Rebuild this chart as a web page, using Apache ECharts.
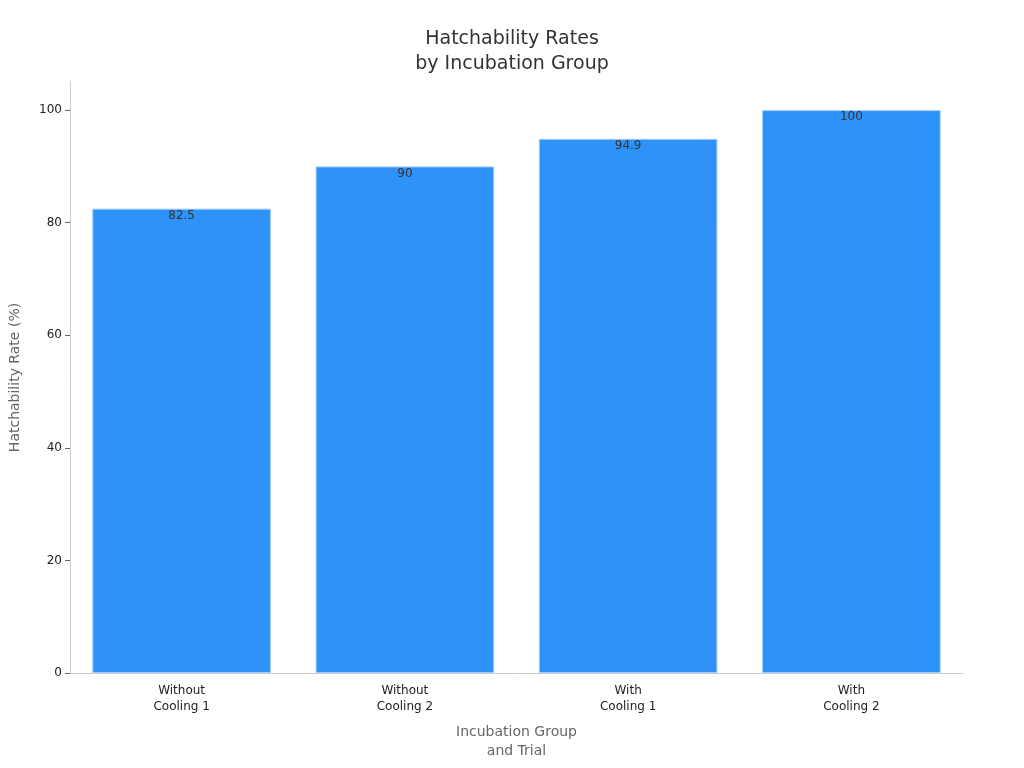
<!DOCTYPE html>
<html><head><meta charset="utf-8">
<script src="https://cdn.jsdelivr.net/npm/echarts@6/dist/echarts.min.js"></script>
<style>html,body{margin:0;padding:0;background:#fff}#c{width:1024px;height:768px}</style>
</head><body><div id="c"></div>
<script>
const categories = ["Without\nCooling 1","Without\nCooling 2","With\nCooling 1","With\nCooling 2"];
const values = [82.5, 90, 94.9, 100];
const yTicks = [0,20,40,60,80,100];
const chart = echarts.init(document.getElementById('c'));
const f = "DejaVu Sans";
chart.setOption({
  animation:false,
  textStyle:{fontFamily:f},
  title:{text:"Hatchability Rates\nby Incubation Group",left:'center',top:22,
    textStyle:{fontFamily:f,fontSize:19,fontWeight:'normal',color:'#333',lineHeight:25}},
  grid:{left:68,right:61,top:82,bottom:95},
  xAxis:{type:'category',data:categories,name:"Incubation Group\nand Trial",nameLocation:'middle',nameGap:50,
    nameTextStyle:{fontSize:14,color:'#666',lineHeight:19},
    axisLine:{lineStyle:{color:'#ccc'}},axisTick:{show:false},
    axisLabel:{fontSize:12,color:'#222',lineHeight:16,margin:10}},
  yAxis:{type:'value',min:0,max:105,interval:20,name:"Hatchability Rate (%)",nameLocation:'middle',nameGap:48,
    nameTextStyle:{fontSize:14,color:'#666'},
    axisLine:{show:true,lineStyle:{color:'#ccc'}},axisTick:{show:true,lineStyle:{color:'#666'}},
    splitLine:{show:false},
    axisLabel:{fontSize:12,color:'#222',showMaxLabel:false,formatter:v=>yTicks.includes(v)?String(v):''}},
  series:[{type:'bar',data:values,barCategoryGap:'20%',
    itemStyle:{color:'#2f92f8',borderColor:'#9ecbfb',borderWidth:1},
    label:{show:true,position:'insideTop',offset:[0,-4],color:'#333',fontSize:12}}]
});
</script></body></html>
